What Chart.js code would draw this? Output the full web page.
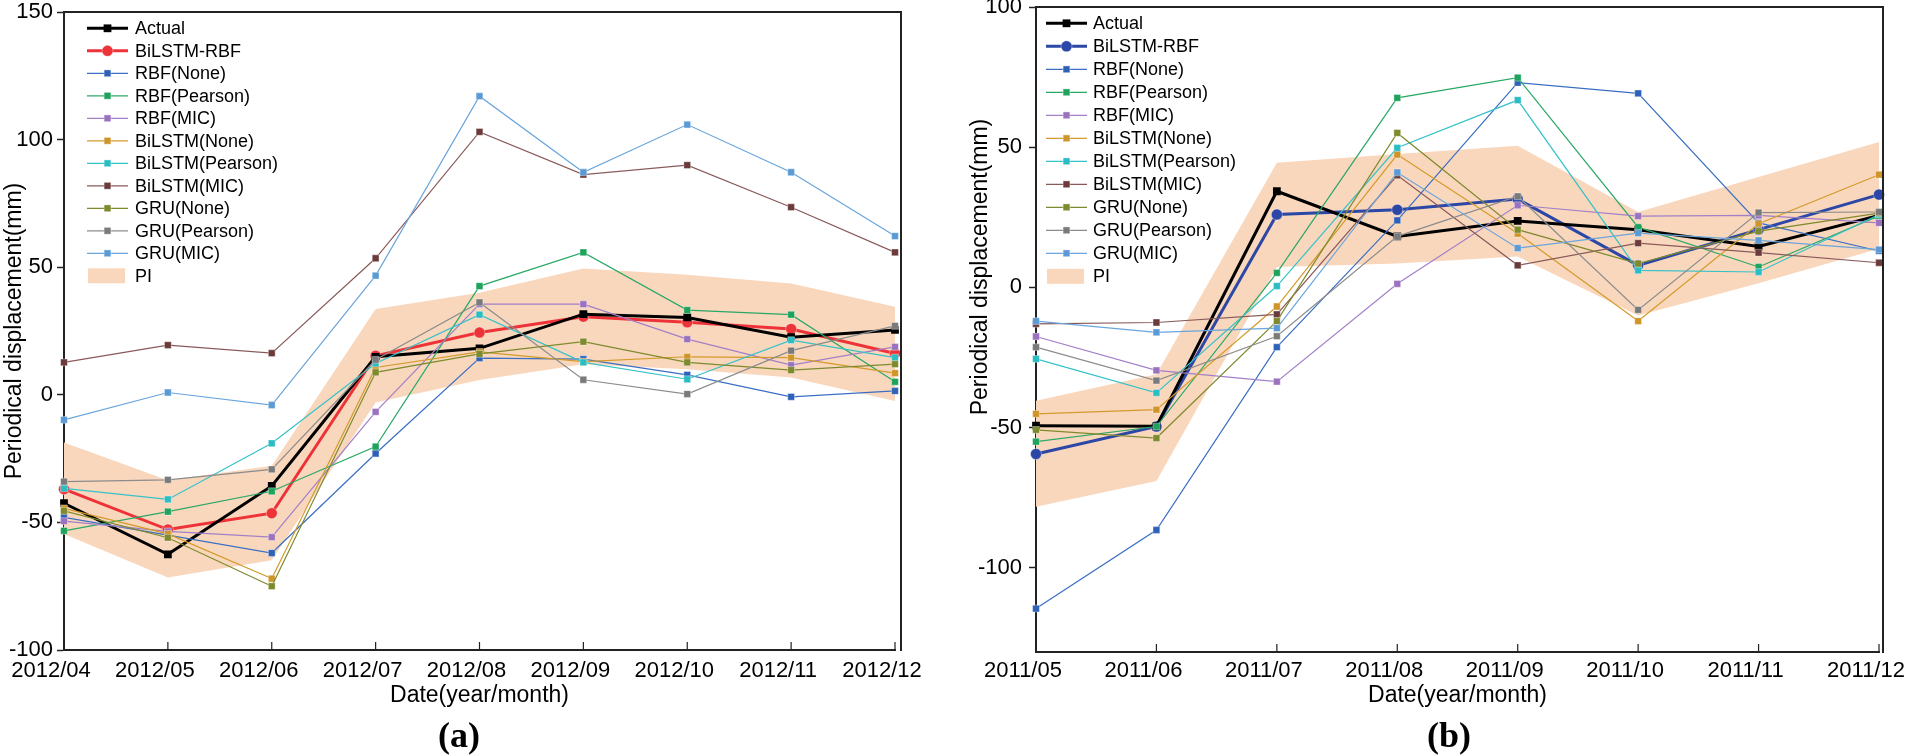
<!DOCTYPE html>
<html><head><meta charset="utf-8">
<script src="https://cdn.jsdelivr.net/npm/chart.js@4.4.1/dist/chart.umd.min.js"></script>
<style>
html,body{margin:0;padding:0;background:#fff;overflow:hidden;}
#wa{position:absolute;left:0;top:0;width:960px;height:756px;}
#wb{position:absolute;left:960px;top:0;width:945px;height:756px;}
</style></head><body>
<div id="wa"><canvas id="ca"></canvas></div>
<div id="wb"><canvas id="cb"></canvas></div>
<script>
// ---------------- DATA ----------------
const seriesNames = ['Actual','BiLSTM-RBF','RBF(None)','RBF(Pearson)','RBF(MIC)','BiLSTM(None)','BiLSTM(Pearson)','BiLSTM(MIC)','GRU(None)','GRU(Pearson)','GRU(MIC)'];
const piName = 'PI';

// (a)
const labelsA = ['2012/04','2012/05','2012/06','2012/07','2012/08','2012/09','2012/10','2012/11','2012/12'];
const actualA        = [-42.5, -62.5, -35.7, 14.9, 18.2, 31.6, 30.3, 22.6, 25.4];
const bilstmRbfA     = [-37, -52.8, -46.4, 15.3, 24.4, 30.6, 28.4, 25.8, 16.2];
const rbfNoneA       = [-48, -55, -62, -23, 14.4, 14, 7.8, -0.8, 1.5];
const rbfPearsonA    = [-53.3, -45.8, -37.8, -20.3, 42.6, 55.8, 33.2, 31.4, 5.1];
const rbfMicA        = [-49.5, -53.5, -55.8, -6.7, 35.5, 35.5, 21.8, 11.6, 18.8];
const bilstmNoneA    = [-44.5, -54.5, -72, 10.7, 16.8, 13, 14.9, 14.6, 8.5];
const bilstmPearsonA = [-36.7, -41, -19, 12.3, 31.4, 12.7, 6.1, 21.4, 14.6];
const bilstmMicA     = [12.7, 19.5, 16.3, 53.5, 103, 86.3, 90, 73.5, 55.8];
const gruNoneA       = [-45.5, -56, -75, 8.8, 16, 20.8, 12.7, 9.7, 12];
const gruPearsonA    = [-34, -33.3, -29.2, 13.7, 36.2, 5.9, 0.3, 17.3, 27];
const gruMicA        = [-9.8, 0.9, -4, 46.7, 117, 87.2, 105.9, 87.2, 62.2];
const piUpperA       = [-18.7, -33.5, -27.8, 33.6, 40, 49.5, 47, 43.6, 34.5];
const piLowerA       = [-54.5, -71.6, -64.8, -3, 5.8, 12, 10, 6.8, -2.4];
const yTicksA        = [-100, -50, 0, 50, 100, 150];

// (b)
const labelsB = ['2011/05','2011/06','2011/07','2011/08','2011/09','2011/10','2011/11','2011/12'];
const actualB        = [-49.3, -49.5, 34.3, 18.2, 23.7, 20.6, 14.6, 25.7];
const bilstmRbfB     = [-59.4, -49.6, 26, 27.7, 31.5, 7.9, 20.6, 33.1];
const rbfNoneB       = [-114.5, -86.5, -21.3, 23.9, 73, 69.2, 23, 13];
const rbfPearsonB    = [-55, -49.6, 5.2, 67.6, 74.8, 21.5, 7.3, 25.5];
const rbfMicB        = [-17.5, -29.6, -33.6, 1.3, 29.3, 25.4, 25.7, 23];
const bilstmNoneB    = [-45.1, -43.6, -6.8, 47.4, 19.2, -12, 22.7, 40.2];
const bilstmPearsonB = [-25.5, -37.6, 0.5, 49.8, 66.8, 6.1, 5.5, 26];
const bilstmMicB     = [-13, -12.5, -9.6, 40, 7.9, 15.8, 12.4, 8.8];
const gruNoneB       = [-50.8, -53.7, -12, 55.1, 20.6, 8.5, 20.1, 26.5];
const gruPearsonB    = [-21.3, -33.2, -17.4, 18.2, 32.5, -8, 26.7, 26.9];
const gruMicB        = [-12, -16, -14.5, 41, 14, 19.4, 16.8, 13.5];
const piUpperB       = [-40.4, -31, 44.5, 47.6, 50.5, 26.9, 39.4, 51.9];
const piLowerB       = [-78.2, -69, 7.3, 8.5, 11, -10, 1.5, 13.8];
const yTicksB        = [-100, -50, 0, 50, 100];

// ---------------- STYLES ----------------
const lineColors  = ['#000000', null, '#3a6fc4', '#2aa866', '#a27fc8', '#d49a2a', '#35c2c8', '#8a5a5a', '#7e8a2c', '#8c8c8c', '#6aa5dc'];
const pointColors = ['#000000', null, '#2e62b8', '#1ea35c', '#9b72c0', '#d0952a', '#2bbdc4', '#6b3a3a', '#7e8a2c', '#7a7a7a', '#5a9bd6'];
const mainColorA = '#ee3338';
const mainColorB = '#2c47a5';
const piColor = '#f9d7bd';
const FONT = '"Liberation Sans", Arial, Helvetica, sans-serif';

function buildDatasets(valuesList, upper, lower, mainColor) {
  const ds = valuesList.map((vals, i) => {
    const isActual = i === 0, isMain = i === 1;
    const lc = isMain ? mainColor : lineColors[i];
    const pc = isMain ? mainColor : pointColors[i];
    return {
      label: seriesNames[i],
      data: vals,
      borderColor: lc,
      backgroundColor: pc,
      pointBackgroundColor: pc,
      pointBorderColor: (isActual) ? '#000' : 'rgba(255,255,255,0.45)',
      pointBorderWidth: (isActual) ? 0 : 0.8,
      pointStyle: isMain ? 'circle' : 'rect',
      pointRadius: isMain ? 5.5 : (isActual ? 5.5 : 4.8),
      borderWidth: (isActual || isMain) ? 3 : 1.2,
      fill: false,
      tension: 0,
      order: isActual ? 10 : (isMain ? 11 : (11 - i))
    };
  });
  ds.push({ label: piName, data: upper, borderWidth: 0, pointRadius: 0, backgroundColor: piColor, borderColor: piColor, fill: '+1', order: 12, isPI: true });
  ds.push({ label: piName + '_low', data: lower, borderWidth: 0, pointRadius: 0, backgroundColor: piColor, borderColor: piColor, fill: false, order: 13, hidePI: true });
  return ds;
}

function drawMarker(ctx, style, r, x, y, fill, stroke, bw) {
  ctx.beginPath();
  if (style === 'circle') ctx.arc(x, y, r, 0, Math.PI * 2);
  else { const s = Math.SQRT1_2 * r; ctx.rect(x - s, y - s, 2 * s, 2 * s); }
  ctx.fillStyle = fill; ctx.fill();
  if (bw) { ctx.lineWidth = bw; ctx.strokeStyle = stroke; ctx.stroke(); }
}

const decorPlugin = {
  id: 'decor',
  afterDraw(chart, args, o) {
    const { ctx, chartArea: ca } = chart;
    const x = chart.scales.x;
    ctx.save();
    // top & right frame
    ctx.strokeStyle = '#222'; ctx.lineWidth = 2;
    ctx.beginPath();
    ctx.moveTo(ca.left - 1, ca.top); ctx.lineTo(ca.right + o.rightGap, ca.top); ctx.lineTo(ca.right + o.rightGap, ca.bottom + 1);
    ctx.stroke();
    // inward x ticks
    ctx.lineWidth = 1.2; ctx.beginPath();
    for (let i = 0; i < x.ticks.length; i++) {
      const px = x.getPixelForTick(i);
      ctx.moveTo(px, ca.bottom); ctx.lineTo(px, ca.bottom - 8);
    }
    ctx.stroke();
    // legend
    ctx.font = '18px ' + FONT; ctx.textBaseline = 'middle'; ctx.textAlign = 'left'; ctx.fillStyle = '#000';
    let row = 0;
    chart.data.datasets.forEach(d => {
      if (d.hidePI) return;
      const y = o.ly0 + row * o.ldy;
      if (d.isPI) {
        ctx.fillStyle = piColor; ctx.fillRect(o.lx0 + 1, y - 7.5, o.lx1 - o.lx0 - 4, 15);
      } else {
        ctx.strokeStyle = d.borderColor; ctx.lineWidth = d.borderWidth;
        ctx.beginPath(); ctx.moveTo(o.lx0, y); ctx.lineTo(o.lx1, y); ctx.stroke();
        drawMarker(ctx, d.pointStyle, d.pointRadius, (o.lx0 + o.lx1) / 2, y, d.pointBackgroundColor, d.pointBorderColor, d.pointBorderWidth);
      }
      ctx.fillStyle = '#000';
      ctx.fillText(d.label, o.tx, y + 1);
      row++;
    });
    // panel caption
    ctx.font = 'bold 36px "Liberation Serif", "Times New Roman", serif';
    ctx.textAlign = 'center'; ctx.textBaseline = 'middle';
    ctx.fillText(o.caption, o.capX, o.capY);
    // optional custom y title
    if (o.yTitle) {
      ctx.save();
      ctx.translate(o.yTitle.x, o.yTitle.y); ctx.rotate(-Math.PI / 2);
      ctx.font = '23px ' + FONT; ctx.textAlign = 'center'; ctx.textBaseline = 'middle';
      ctx.fillText(o.yTitle.text, 0, 0);
      ctx.restore();
    }
    ctx.restore();
  }
};

function makeChart(id, labels, datasets, cfg) {
  return new Chart(document.getElementById(id), {
    type: 'line',
    data: { labels, datasets },
    plugins: [decorPlugin],
    options: {
      responsive: true, maintainAspectRatio: false, animation: false,
      layout: { padding: { left: 0, top: cfg.top, right: cfg.right, bottom: 0 } },
      plugins: { legend: { display: false }, tooltip: { enabled: false }, decor: cfg.decor },
      scales: {
        x: {
          type: 'category', offset: false,
          grid: { display: false, drawTicks: false },
          border: { display: true, color: '#222', width: 2 },
          ticks: { color: '#000', font: { family: FONT, size: 22 }, autoSkip: false, maxRotation: 0, minRotation: 0, labelOffset: -13, padding: cfg.xPad },
          title: { display: true, text: 'Date(year/month)', color: '#000', font: { family: FONT, size: 23 }, padding: { top: 0, bottom: 47 } },
          afterFit: s => { s.height = cfg.xH; s.paddingLeft = 0; s.paddingRight = 0; }
        },
        y: {
          min: cfg.min, max: cfg.max,
          grid: { display: true, drawOnChartArea: false, drawTicks: true, tickLength: 7, tickWidth: 1.5, tickColor: '#222' },
          border: { display: true, color: '#222', width: 2 },
          ticks: { color: '#000', font: { family: FONT, size: 22 }, stepSize: 50, padding: cfg.yPad },
          afterBuildTicks: s => { s.ticks = cfg.yTicks.map(v => ({ value: v })); },
          title: { display: cfg.yTitleLib, text: 'Periodical displacement(mm)', color: '#000', font: { family: FONT, size: 23 }, padding: { top: 1, bottom: 0 } },
          afterFit: s => { s.width = cfg.yW; s.paddingTop = 0; s.paddingBottom = 0; }
        }
      }
    }
  });
}

makeChart('ca', labelsA,
  buildDatasets([actualA, bilstmRbfA, rbfNoneA, rbfPearsonA, rbfMicA, bilstmNoneA, bilstmPearsonA, bilstmMicA, gruNoneA, gruPearsonA, gruMicA], piUpperA, piLowerA, mainColorA),
  { top: 12, right: 65, xH: 106, yW: 64, xPad: 8, yPad: 4, min: -100, max: 150, yTicks: yTicksA, yTitleLib: true,
    decor: { rightGap: 6, lx0: 87, lx1: 128, tx: 135, ly0: 28.3, ldy: 22.5, caption: '(a)', capX: 459, capY: 738 } });

makeChart('cb', labelsB,
  buildDatasets([actualB, bilstmRbfB, rbfNoneB, rbfPearsonB, rbfMicB, bilstmNoneB, bilstmPearsonB, bilstmMicB, gruNoneB, gruPearsonB, gruMicB], piUpperB, piLowerB, mainColorB),
  { top: 7, right: 26, xH: 104, yW: 76, xPad: 6, yPad: 7, min: -130, max: 100, yTicks: yTicksB, yTitleLib: false,
    decor: { rightGap: 4, lx0: 86, lx1: 127, tx: 133, ly0: 23.3, ldy: 23.0, caption: '(b)', capX: 489, capY: 738,
             yTitle: { x: 21, y: 267, text: 'Periodical displacement(mm)' } } });
</script>
</body></html>
